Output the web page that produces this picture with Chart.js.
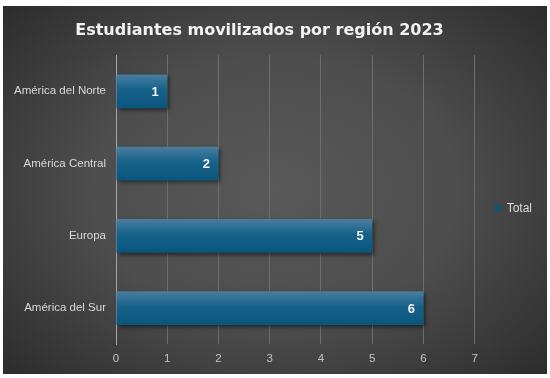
<!DOCTYPE html>
<html>
<head>
<meta charset="utf-8">
<script src="https://cdn.jsdelivr.net/npm/chart.js@4.4.1/dist/chart.umd.min.js"></script>
<style>
  html, body { margin: 0; padding: 0; background: #ffffff; }
  #card {
    position: absolute; left: 3px; top: 6px; width: 544px; height: 368px;
    background: radial-gradient(ellipse 75% 80% at 50% 50%, #595959 0%, #4d4d4d 45%, #383838 75%, #262626 100%);
  }
</style>
</head>
<body>
<div id="card"><canvas id="chart" width="544" height="368"></canvas></div>
<script>
// chart data
const regions = ['América del Norte', 'América Central', 'Europa', 'América del Sur'];
const students = [1, 2, 5, 6];
const seriesName = 'Total';
const chartTitle = 'Estudiantes movilizados por región 2023';

document.addEventListener('DOMContentLoaded', function() {
    const ctx = document.getElementById('chart').getContext('2d');
    const labelFont = '"Liberation Sans", Arial, sans-serif';

    // blue bar fill, lighter at the top edge
    function barFill(context) {
        const chart = context.chart;
        if (!chart.chartArea || !chart.scales.y) return '#0f5f86';
        const y = chart.scales.y.getPixelForValue(context.dataIndex);
        const g = chart.ctx.createLinearGradient(0, y - 17, 0, y + 17);
        g.addColorStop(0, '#4a7ea0');
        g.addColorStop(0.45, '#16628a');
        g.addColorStop(1, '#0a557c');
        return g;
    }

    // title sits a little left of the canvas centre in the original
    const titleShift = {
        id: 'titleShift',
        afterLayout(chart) {
            const t = chart.titleBlock;
            if (t) { t.left -= 13; t.right -= 13; }
        }
    };

    const barShadow = {
        id: 'barShadow',
        beforeDatasetsDraw(chart) {
            const c = chart.ctx;
            c.save();
            c.shadowColor = 'rgba(0,0,0,0.55)';
            c.shadowBlur = 4;
            c.shadowOffsetX = 2;
            c.shadowOffsetY = 2;
        },
        afterDatasetsDraw(chart) {
            chart.ctx.restore();
        }
    };

    const valueLabels = {
        id: 'valueLabels',
        afterDatasetsDraw(chart) {
            const c = chart.ctx;
            const meta = chart.getDatasetMeta(0);
            c.save();
            c.font = 'bold 13px ' + labelFont;
            c.fillStyle = '#f2f2f2';
            c.textAlign = 'center';
            c.textBaseline = 'middle';
            meta.data.forEach((bar, i) => {
                c.fillText(String(chart.data.datasets[0].data[i]), bar.x - 12, bar.y + 1);
            });
            c.restore();
        }
    };

    new Chart(ctx, {
        type: 'bar',
        data: {
            labels: regions,
            datasets: [{
                label: seriesName,
                data: students,
                backgroundColor: barFill,
                borderWidth: 0,
                categoryPercentage: 0.9,
                barPercentage: 0.52
            }]
        },
        options: {
            indexAxis: 'y',
            responsive: false,
            animation: false,
            layout: { padding: { left: 0, right: 5, top: 0, bottom: 0 } },
            plugins: {
                title: {
                    display: true,
                    text: chartTitle,
                    color: '#f2f2f2',
                    font: { family: '"DejaVu Sans", sans-serif', size: 16, weight: 'bold' },
                    padding: { top: 15, bottom: 15 }
                },
                legend: {
                    position: 'right',
                    // empty legend title only pushes the entry down a bit
                    title: { display: true, text: ' ', padding: 11, font: { size: 12 } },
                    labels: {
                        color: '#d9d9d9',
                        boxWidth: 6,
                        boxHeight: 6,
                        padding: 20,
                        font: { family: labelFont, size: 12 }
                    }
                },
                tooltip: { enabled: false }
            },
            scales: {
                x: {
                    min: 0,
                    max: 7,
                    ticks: {
                        stepSize: 1,
                        color: '#c4c4c4',
                        padding: 8,
                        font: { family: labelFont, size: 11.5 }
                    },
                    grid: { color: '#6e6e6e', lineWidth: 1, drawTicks: false },
                    border: { display: false }
                },
                y: {
                    afterFit(scale) { scale.width = 113; },
                    ticks: {
                        color: '#d9d9d9',
                        padding: 10,
                        font: { family: labelFont, size: 11.5 }
                    },
                    grid: { display: false, drawTicks: false },
                    border: { color: '#a6a6a6', width: 1 }
                }
            }
        },
        plugins: [titleShift, barShadow, valueLabels]
    });
});
</script>
</body>
</html>
